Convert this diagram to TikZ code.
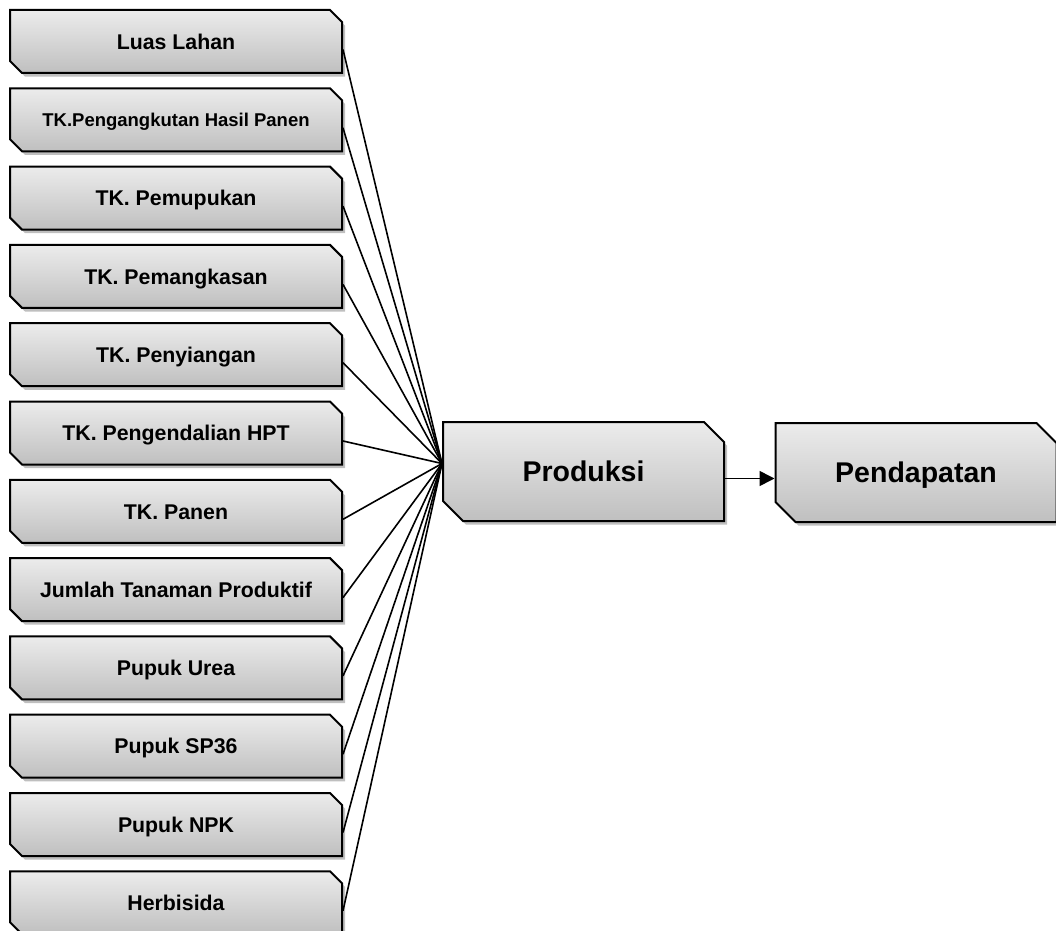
\documentclass[tikz,border=0pt]{standalone}
\usepackage{fontspec}
\setmainfont{Liberation Sans}
\usetikzlibrary{positioning,arrows.meta,shapes.misc,shadows,calc}
\tikzset{
  >={Triangle[length=7.5pt,width=7.5pt]},
  cbox/.style={chamfered rectangle, chamfered rectangle corners={north east,south west},
               chamfered rectangle sep=#1, draw, line width=1pt, align=center, inner sep=0pt,
               top color=gray!15, bottom color=gray!50, text depth=0pt,
               drop shadow={shadow xshift=1.5pt, shadow yshift=-1.8pt, opacity=0.25, fill=black}},
  inbox/.style={cbox=3pt, minimum width=166pt, minimum height=31.5pt, text height=7.7pt,
                font=\fontsize{10.65pt}{12pt}\selectfont\bfseries},
  mainbox/.style={cbox=5pt, minimum width=140.5pt, minimum height=49.5pt, text height=10.3pt,
                  font=\fontsize{14.25pt}{16pt}\selectfont\bfseries},
  flow/.style={line width=0.8pt}
}
\begin{document}
\begin{tikzpicture}[x=0.5pt,y=-0.5pt]
\useasboundingbox (0,0) rectangle (1056,931);
% column x positions
\def\xa{176} \def\xb{583.5} \def\xc{916}
% factor column
\node[inbox] (f0) at (\xa,41.5) {Luas Lahan};
\node[inbox, text height=6.7pt, font=\fontsize{9.25pt}{11pt}\selectfont\bfseries] (f1) at (\xa,119.8) {TK.Pengangkutan Hasil Panen};
\node[inbox] (f2) at (\xa,198.1) {TK. Pemupukan};
\node[inbox] (f3) at (\xa,276.4) {TK. Pemangkasan};
\node[inbox] (f4) at (\xa,354.7) {TK. Penyiangan};
\node[inbox] (f5) at (\xa,433.0) {TK. Pengendalian HPT};
\node[inbox] (f6) at (\xa,511.3) {TK. Panen};
\node[inbox] (f7) at (\xa,589.6) {Jumlah Tanaman Produktif};
\node[inbox] (f8) at (\xa,667.9) {Pupuk Urea};
\node[inbox] (f9) at (\xa,746.2) {Pupuk SP36};
\node[inbox] (f10) at (\xa,824.5) {Pupuk NPK};
\node[inbox] (f11) at (\xa,902.8) {Herbisida};
% production and income
\node[mainbox] (prod) at (\xb,471.5) {Produksi};
\node[mainbox] (pend) at (\xc,472.5) {Pendapatan};
\coordinate (hub) at ($(prod.west)+(0,-8)$);
\foreach \i in {0,...,11} \draw[flow] ($(f\i.east)+(0,8)$) -- (hub);
\coordinate (out) at ($(prod.east)+(0,7)$);
\draw[flow,->] (out) -- (out -| pend.west);
\end{tikzpicture}
\end{document}
